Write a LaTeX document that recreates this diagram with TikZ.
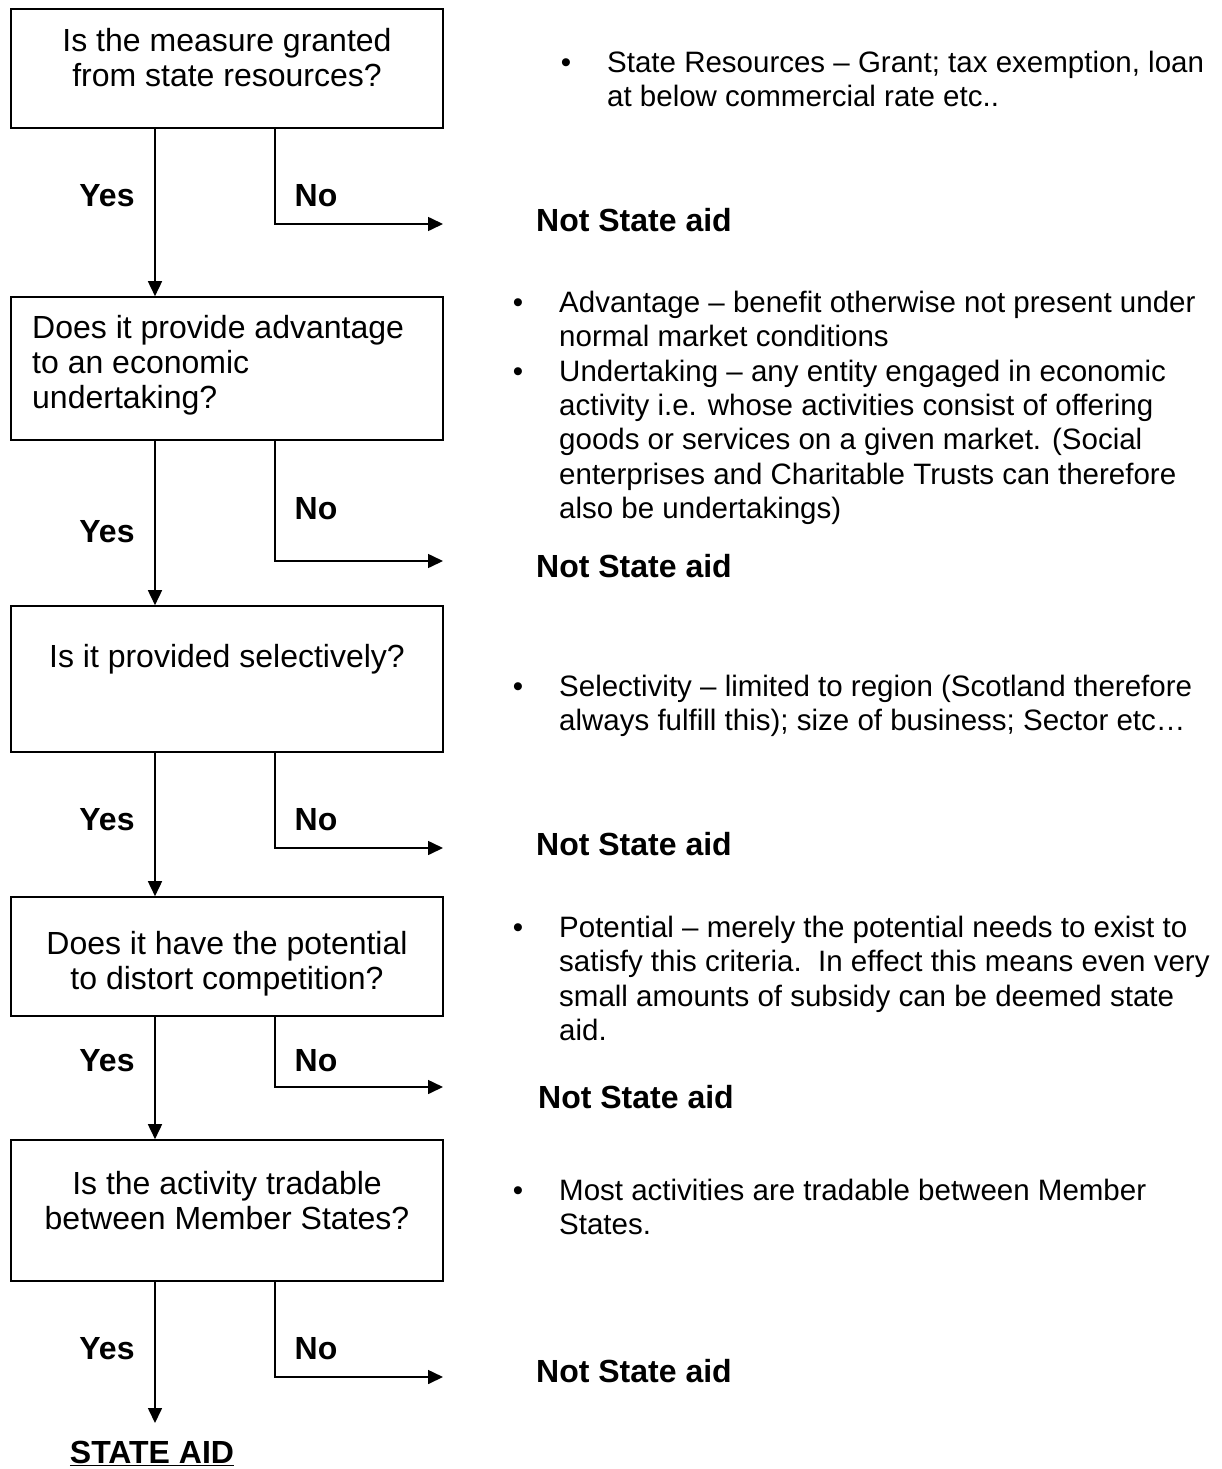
\documentclass[tikz,border=0pt]{standalone}
\usepackage{fontspec}
\setmainfont{Liberation Sans}
\usetikzlibrary{arrows.meta}
\tikzset{
  qbox/.style={draw, line width=1.6pt, minimum width=432pt, inner sep=0pt},
  flow/.style={line width=1.6pt},
  arr/.style={flow, -{Triangle[length=15pt,width=14pt]}},
  qtxt/.style={inner sep=0pt, font=\fontsize{32}{35}\selectfont},
  body/.style={inner sep=0pt, font=\fontsize{29.5}{34.3}\selectfont},
  lbl/.style={inner sep=0pt, font=\fontsize{32}{35}\selectfont\bfseries, anchor=base},
  bul/.style={inner sep=0pt, font=\fontsize{29.5}{34.3}\selectfont, anchor=base},
}
\begin{document}
\begin{tikzpicture}[x=1pt,y=-1pt]
\useasboundingbox (0,0) rectangle (1221,1469);
% boxes
\node[qbox, minimum height=119pt] (b1) at (227,68.5) {};
\node[qbox, minimum height=143pt] (b2) at (227,368.5) {};
\node[qbox, minimum height=146pt] (b3) at (227,679) {};
\node[qbox, minimum height=119pt] (b4) at (227,956.5) {};
\node[qbox, minimum height=141pt] (b5) at (227,1210.5) {};
% box texts
\node[qtxt, anchor=base] (t1) at (227,51.5) {\parbox[t]{430pt}{\centering Is the measure granted\\from state resources?}};
\node[qtxt, anchor=base west] (t2) at (32,338.5) {\parbox[t]{420pt}{Does it provide advantage\\to an economic\\undertaking?}};
\node[qtxt, anchor=base] (t3) at (227,667.5) {Is it provided selectively?};
\node[qtxt, anchor=base] (t4) at (227,954.5) {\parbox[t]{430pt}{\centering Does it have the potential\\to distort competition?}};
\node[qtxt, anchor=base] (t5) at (227,1194.5) {\parbox[t]{430pt}{\centering Is the activity tradable\\between Member States?}};
% end coordinates
\coordinate (e1) at (443,224);
\coordinate (e2) at (443,561);
\coordinate (e3) at (443,848);
\coordinate (e4) at (443,1087);
\coordinate (e5) at (443,1377);
\node[lbl] (sa) at (152,1463) {\underline{STATE AID}};
\coordinate (sat) at (155,1423);
% yes arrows
\draw[arr] (b1.south -| 155,0) -- (b2.north -| 155,0);
\draw[arr] (b2.south -| 155,0) -- (b3.north -| 155,0);
\draw[arr] (b3.south -| 155,0) -- (b4.north -| 155,0);
\draw[arr] (b4.south -| 155,0) -- (b5.north -| 155,0);
\draw[arr] (b5.south -| 155,0) -- (sat);
% no arrows
\draw[arr] (b1.south -| 275,0) |- (e1);
\draw[arr] (b2.south -| 275,0) |- (e2);
\draw[arr] (b3.south -| 275,0) |- (e3);
\draw[arr] (b4.south -| 275,0) |- (e4);
\draw[arr] (b5.south -| 275,0) |- (e5);
% yes / no labels
\node[lbl] (y1) at (107,206.5) {Yes};
\node[lbl] (n1) at (316,206.5) {No};
\node[lbl] (y2) at (107,542.5) {Yes};
\node[lbl] (n2) at (316,519.5) {No};
\node[lbl] (y3) at (107,830.5) {Yes};
\node[lbl] (n3) at (316,830.5) {No};
\node[lbl] (y4) at (107,1071.5) {Yes};
\node[lbl] (n4) at (316,1071.5) {No};
\node[lbl] (y5) at (107,1359.5) {Yes};
\node[lbl] (n5) at (316,1359.5) {No};
% not state aid
\node[lbl, anchor=base west] (ns1) at (536,231.5) {Not State aid};
\node[lbl, anchor=base west] (ns2) at (536,577.5) {Not State aid};
\node[lbl, anchor=base west] (ns3) at (536,855.5) {Not State aid};
\node[lbl, anchor=base west] (ns4) at (538,1108.5) {Not State aid};
\node[lbl, anchor=base west] (ns5) at (536,1382.5) {Not State aid};
% right notes
\node[bul] (d1) at (566,72.5) {\textbullet};
\node[body, anchor=base west] (r1) at (607,72.5) {\parbox[t]{620pt}{State Resources – Grant; tax exemption, loan\\at below commercial rate etc..}};
\node[bul] (d2a) at (518,312.5) {\textbullet};
\node[body, anchor=base west] (r2a) at (559,312.5) {\parbox[t]{660pt}{Advantage – benefit otherwise not present under\\normal market conditions}};
\node[bul] (d2b) at (518,381.1) {\textbullet};
\node[body, anchor=base west] (r2b) at (559,381.1) {\parbox[t]{660pt}{Undertaking – any entity engaged in economic\\activity i.e. whose activities consist of offering\\goods or services on a given market. (Social\\enterprises and Charitable Trusts can therefore\\also be undertakings)}};
\node[bul] (d3) at (518,696.5) {\textbullet};
\node[body, anchor=base west] (r3) at (559,696.5) {\parbox[t]{660pt}{Selectivity – limited to region (Scotland therefore\\always fulfill this); size of business; Sector etc…}};
\node[bul] (d4) at (518,937.5) {\textbullet};
\node[body, anchor=base west] (r4) at (559,937.5) {\parbox[t]{660pt}{Potential – merely the potential needs to exist to\\satisfy this criteria.\ \ In effect this means even very\\small amounts of subsidy can be deemed state\\aid.}};
\node[bul] (d5) at (518,1200.5) {\textbullet};
\node[body, anchor=base west] (r5) at (559,1200.5) {\parbox[t]{660pt}{Most activities are tradable between Member\\States.}};
\end{tikzpicture}
\end{document}
